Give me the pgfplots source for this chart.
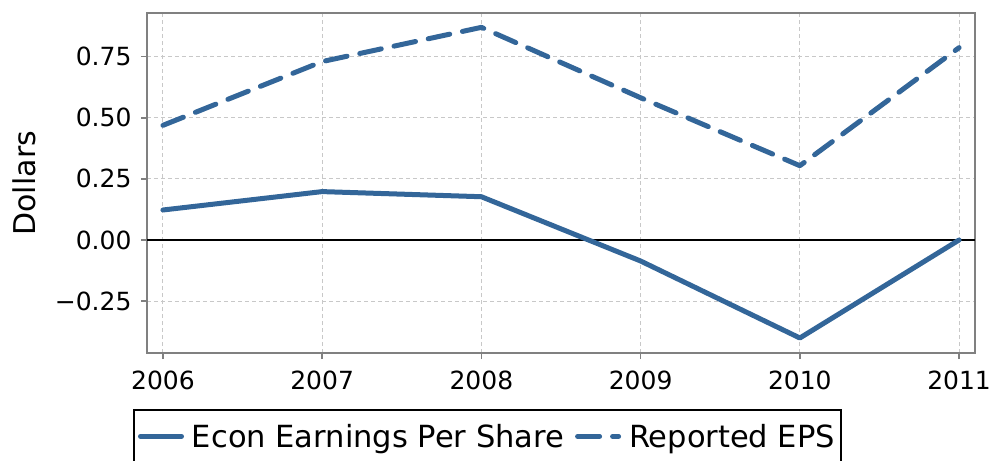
\documentclass[border=0pt]{standalone}
\usepackage{pgfplots}
\pgfplotsset{compat=1.18}
\usepackage{fontspec}
\setmainfont{DejaVu Sans}
\definecolor{lineblue}{RGB}{51,102,153}
\definecolor{gridgray}{RGB}{200,200,200}
\definecolor{framegray}{RGB}{128,128,128}
\begin{document}
\begin{tikzpicture}
\begin{axis}[
  scale only axis,
  width=828pt, height=339.5pt,
  xmin=2005.9, xmax=2011.1,
  ymin=-0.4624, ymax=0.9267,
  xtick={2006,2007,2008,2009,2010,2011},
  xticklabels={2006,2007,2008,2009,2010,2011},
  ytick={-0.25,0,0.25,0.5,0.75},
  yticklabels={−0.25,0.00,0.25,0.50,0.75},
  xtick pos=bottom, ytick pos=left,
  tick align=outside,
  major tick length=6pt,
  every tick/.style={framegray, line width=1.5pt},
  axis line style={framegray, line width=2pt},
  grid=major,
  major grid style={gridgray, dashed, dash pattern=on 4pt off 3pt, line width=1pt},
  tick label style={font=\fontsize{25}{30}\selectfont},
  xticklabel style={yshift=-8pt},
  yticklabel style={xshift=-6pt},
  ylabel={Dollars},
  ylabel style={font=\fontsize{30}{36}\selectfont, yshift=12pt},
  legend columns=2,
  legend style={
    at={(rel axis cs:0,0)}, anchor=north west,
    xshift=-14pt, yshift=-56pt,
    draw=black, line width=2pt,
    font=\fontsize{30.5}{36}\selectfont,
    inner xsep=4pt, inner ysep=12pt,
    /tikz/every odd column/.append style={column sep=6pt},
    /tikz/every even column/.append style={column sep=9pt},
  },
  legend image code/.code={\draw[#1] (0pt,0pt) -- (41pt,0pt);},
]
\addplot[black, line width=1.2pt, forget plot] coordinates {(2005.9,0) (2011.1,0)};
\addplot[lineblue, line width=5pt, line cap=round, line join=round]
  coordinates {(2006,0.1227) (2007,0.198) (2008,0.177) (2009,-0.086) (2010,-0.401) (2011,0.0)};
\addlegendentry{Econ Earnings Per Share}
\addplot[lineblue, line width=5pt, line cap=round, line join=round, dash pattern=on 22pt off 13pt]
  coordinates {(2006,0.469) (2007,0.730) (2008,0.870) (2009,0.582) (2010,0.304) (2011,0.787)};
\addlegendentry{Reported EPS}
\end{axis}
\pgfresetboundingbox
\path ([xshift=-147pt,yshift=-107pt]current axis.south west) rectangle ([xshift=17pt,yshift=13.5pt]current axis.north east);
\end{tikzpicture}
\end{document}
